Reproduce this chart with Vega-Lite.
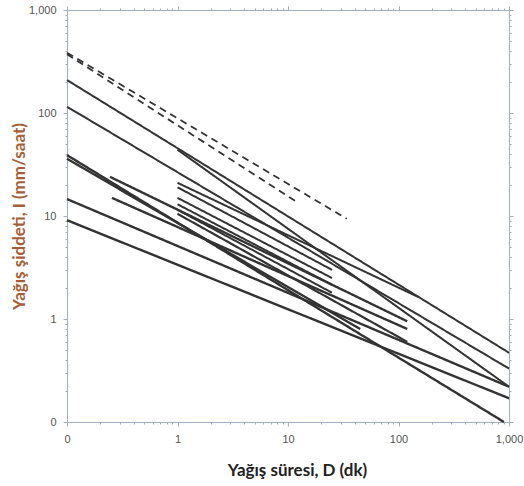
{
  "$schema": "https://vega.github.io/schema/vega-lite/v6.json",
  "width": 442,
  "height": 412,
  "autosize": "none",
  "padding": {"left": 67, "top": 10, "right": 15, "bottom": 64},
  "background": "white",
  "config": {"view": {"stroke": null}},
  "data": {"values": [
    {"line": "D1", "kind": "dashed", "D": 0.1, "I": 385},
    {"line": "D1", "kind": "dashed", "D": 34, "I": 9.4},
    {"line": "D2", "kind": "dashed", "D": 0.1, "I": 372},
    {"line": "D2", "kind": "dashed", "D": 12, "I": 13.7},
    {"line": "A", "kind": "light", "D": 0.1, "I": 209},
    {"line": "A", "kind": "light", "D": 1000, "I": 0.47},
    {"line": "B", "kind": "light", "D": 0.1, "I": 115},
    {"line": "B", "kind": "light", "D": 1000, "I": 0.33},
    {"line": "S1", "kind": "light", "D": 1, "I": 44},
    {"line": "S1", "kind": "light", "D": 1000, "I": 0.22},
    {"line": "S2", "kind": "light", "D": 1, "I": 21},
    {"line": "S2", "kind": "light", "D": 150, "I": 1.64},
    {"line": "S3", "kind": "light", "D": 1, "I": 19},
    {"line": "S3", "kind": "light", "D": 25, "I": 3.0},
    {"line": "S4", "kind": "light", "D": 1, "I": 15},
    {"line": "S4", "kind": "light", "D": 25, "I": 2.5},
    {"line": "S5", "kind": "light", "D": 1, "I": 13},
    {"line": "S5", "kind": "light", "D": 25, "I": 2.15},
    {"line": "S6", "kind": "light", "D": 1, "I": 11.5},
    {"line": "S6", "kind": "light", "D": 25, "I": 1.8},
    {"line": "T1", "kind": "heavy", "D": 0.1, "I": 39},
    {"line": "T1", "kind": "heavy", "D": 900, "I": 0.1},
    {"line": "T2", "kind": "heavy", "D": 0.1, "I": 36},
    {"line": "T2", "kind": "heavy", "D": 45, "I": 0.8},
    {"line": "T3", "kind": "heavy", "D": 0.1, "I": 14.6},
    {"line": "T3", "kind": "heavy", "D": 1000, "I": 0.22},
    {"line": "T4", "kind": "heavy", "D": 0.1, "I": 9.1},
    {"line": "T4", "kind": "heavy", "D": 1000, "I": 0.17},
    {"line": "T5", "kind": "heavy", "D": 0.245, "I": 24},
    {"line": "T5", "kind": "heavy", "D": 120, "I": 0.95},
    {"line": "T6", "kind": "heavy", "D": 0.255, "I": 15},
    {"line": "T6", "kind": "heavy", "D": 120, "I": 0.8},
    {"line": "T7", "kind": "medium", "D": 1, "I": 10.5},
    {"line": "T7", "kind": "medium", "D": 120, "I": 0.6}
  ]},
  "layer": [
    {
      "mark": {"type": "line", "color": "#333333"},
      "encoding": {
        "x": {
          "field": "D", "type": "quantitative",
          "scale": {"type": "log", "domain": [0.1, 1000], "nice": false},
          "axis": {
            "orient": "bottom",
            "values": [0.1,0.2,0.3,0.4,0.5,0.6,0.7,0.8,0.9,1,2,3,4,5,6,7,8,9,10,20,30,40,50,60,70,80,90,100,200,300,400,500,600,700,800,900,1000],
            "labelExpr": "datum.value < 0.15 ? '0' : (indexof([1,10,100,1000], datum.value) >= 0 ? format(datum.value, ',') : '')",
            "labelOverlap": false, "labelBound": false, "labelFlush": false,
            "labelFont": "Liberation Sans", "labelFontSize": 11, "labelColor": "#555555",
            "labelPadding": 7,
            "domainColor": "#a4aec2", "tickColor": "#a4aec2",
            "tickSize": {"condition": {"test": "indexof([0.1,1,10,100,1000], datum.value) >= 0", "value": 4}, "value": 2},
            "grid": false,
            "title": "Yağış süresi, D (dk)",
            "titleFont": "Lato", "titleFontSize": 17, "titleFontWeight": "bold", "titleColor": "#222222",
            "titleX": 230, "titleY": 48, "titleBaseline": "middle", "titleAlign": "center"
          }
        },
        "y": {
          "field": "I", "type": "quantitative",
          "scale": {"type": "log", "domain": [0.1, 1000], "nice": false},
          "axis": {
            "orient": "left",
            "values": [0.1,0.2,0.3,0.4,0.5,0.6,0.7,0.8,0.9,1,2,3,4,5,6,7,8,9,10,20,30,40,50,60,70,80,90,100,200,300,400,500,600,700,800,900,1000],
            "labelExpr": "datum.value < 0.15 ? '0' : (indexof([1,10,100,1000], datum.value) >= 0 ? format(datum.value, ',') : '')",
            "labelOverlap": false, "labelBound": false, "labelFlush": false,
            "labelFont": "Liberation Sans", "labelFontSize": 11, "labelColor": "#555555",
            "labelPadding": 7,
            "domainColor": "#a4aec2", "tickColor": "#a4aec2",
            "tickSize": {"condition": {"test": "indexof([0.1,1,10,100,1000], datum.value) >= 0", "value": 4}, "value": 2},
            "grid": false,
            "title": "Yağış şiddeti, I (mm/saat)",
            "titleFont": "Lato", "titleFontSize": 17, "titleFontWeight": "bold", "titleColor": "#a55f38",
            "titleX": -48, "titleY": 206, "titleBaseline": "middle", "titleAlign": "center", "titleAngle": -90
          }
        },
        "detail": {"field": "line", "type": "nominal"},
        "strokeWidth": {
          "field": "kind", "type": "nominal",
          "scale": {"domain": ["heavy", "medium", "light", "dashed"], "range": [2.4, 1.8, 1.0, 1.2]},
          "legend": null
        },
        "strokeDash": {
          "field": "kind", "type": "nominal",
          "scale": {"domain": ["heavy", "medium", "light", "dashed"], "range": [[1, 0], [1, 0], [1, 0], [7, 5]]},
          "legend": null
        }
      }
    },
    {
      "mark": {"type": "line", "strokeOpacity": 0},
      "encoding": {
        "x": {
          "field": "D", "type": "quantitative",
          "scale": {"type": "log", "domain": [0.1, 1000], "nice": false},
          "axis": {
            "orient": "top",
            "values": [0.1,0.2,0.3,0.4,0.5,0.6,0.7,0.8,0.9,1,2,3,4,5,6,7,8,9,10,20,30,40,50,60,70,80,90,100,200,300,400,500,600,700,800,900,1000],
            "labels": false, "title": null, "grid": false,
            "domainColor": "#a4aec2", "tickColor": "#a4aec2",
            "tickSize": {"condition": {"test": "indexof([0.1,1,10,100,1000], datum.value) >= 0", "value": 4}, "value": 2}
          }
        },
        "y": {
          "field": "I", "type": "quantitative",
          "scale": {"type": "log", "domain": [0.1, 1000], "nice": false},
          "axis": {
            "orient": "right",
            "values": [0.1,0.2,0.3,0.4,0.5,0.6,0.7,0.8,0.9,1,2,3,4,5,6,7,8,9,10,20,30,40,50,60,70,80,90,100,200,300,400,500,600,700,800,900,1000],
            "labels": false, "title": null, "grid": false,
            "domainColor": "#a4aec2", "tickColor": "#a4aec2",
            "tickSize": {"condition": {"test": "indexof([0.1,1,10,100,1000], datum.value) >= 0", "value": 4}, "value": 2}
          }
        },
        "detail": {"field": "line", "type": "nominal"}
      }
    }
  ],
  "resolve": {"axis": {"x": "independent", "y": "independent"}}
}
